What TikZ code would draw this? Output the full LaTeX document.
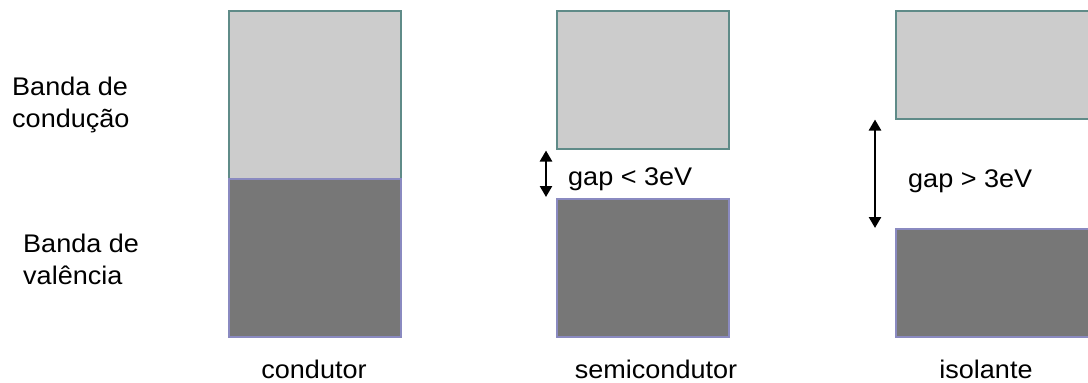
\documentclass[tikz,border=0pt]{standalone}
\usepackage{fontspec}
\setmainfont{Liberation Sans}
\usetikzlibrary{arrows.meta,calc}
\definecolor{cband}{HTML}{CCCCCC}
\definecolor{vband}{HTML}{777777}
\definecolor{cedge}{HTML}{5F8B88}
\definecolor{vedge}{HTML}{8A8AC0}
\begin{document}
\begin{tikzpicture}[x=1pt,y=-1pt,
  band/.style={draw,line width=1.5pt,inner sep=0pt,anchor=north west,minimum width=#1},
  condband/.style={band=172pt,fill=cband,draw=cedge},
  valband/.style={band=172pt,fill=vband,draw=vedge},
  lbl/.style={font=\fontsize{25.5}{32}\selectfont,inner sep=0pt,xscale=1.06,transform shape},
  gaparrow/.style={line width=2.5pt,{Triangle[width=12pt,length=11pt]}-{Triangle[width=12pt,length=11pt]}}]
\useasboundingbox (0,0) rectangle (1088,383);

% conductor: bands touch
\node[condband,minimum height=168pt] (cL) at (228,10) {};
\node[valband,minimum height=158pt] (cV) at (228,178) {};

% semiconductor: small gap
\node[condband,minimum height=138pt] (sL) at (556,10) {};
\node[valband,minimum height=138pt] (sV) at (556,198) {};

% insulator: wide gap
\node[band=220pt,fill=cband,draw=cedge,minimum height=108pt] (iL) at (895,10) {};
\node[band=220pt,fill=vband,draw=vedge,minimum height=108pt] (iV) at (895,228) {};

% gap arrows
\draw[gaparrow] ($(sL.south west)+(-10,1)$) -- ($(sV.north west)+(-10,-1)$);
\draw[gaparrow] ($(iL.south west)+(-20,0)$) -- ($(iV.north west)+(-20,0)$);

% gap labels
\node[lbl,anchor=base west] (g1) at (568,185) {gap < 3eV};
\node[lbl,anchor=base west] (g2) at (908,187) {gap > 3eV};

% band names
\node[lbl,anchor=base west] (bc1) at (12,95) {Banda de};
\node[lbl,anchor=base west] (bc2) at (12,127) {condução};
\node[lbl,anchor=base west] (bv1) at (23,252) {Banda de};
\node[lbl,anchor=base west] (bv2) at (23,284) {valência};

% material names
\node[lbl,anchor=base] (n1) at (314,378) {condutor};
\node[lbl,anchor=base] (n2) at (656,378) {semicondutor};
\node[lbl,anchor=base] (n3) at (986,378) {isolante};
\end{tikzpicture}
\end{document}
